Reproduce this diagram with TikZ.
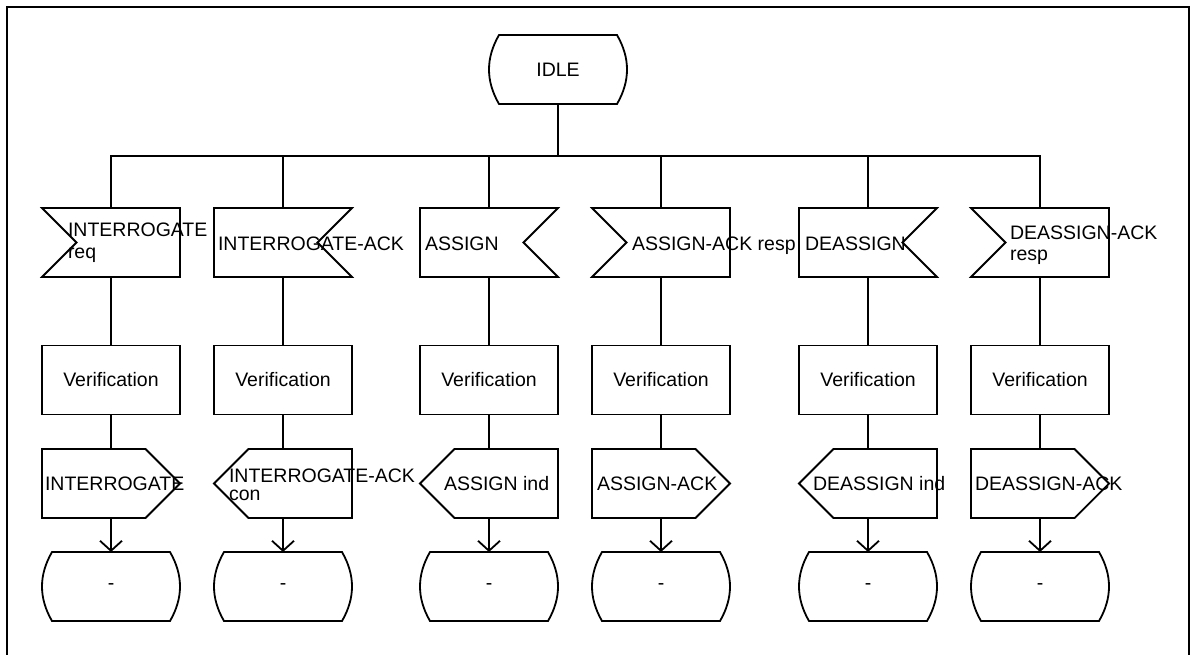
\documentclass[tikz,border=0pt]{standalone}
\usepackage{fontspec}
\setmainfont{Liberation Sans}
\usetikzlibrary{calc,arrows.meta}

\tikzset{
  sdl/.style={line width=1.8pt, line join=miter},
  frame/.style={line width=2.4pt},
  symbol/.style={draw=none, minimum width=138pt, minimum height=69pt, inner sep=0pt, outer sep=0pt},
  msgtext/.style={anchor=base west, inner sep=0pt, outer sep=0pt},
  arrowflow/.style={sdl, -{Straight Barb[length=10pt,width=22pt]}},
}

% SDL symbol outlines drawn round a named (invisible) node
\newcommand\sdlstate[1]{%
  \draw[sdl] ($(#1.north west)+(10,0)$) -- ($(#1.north east)+(-10,0)$)
    .. controls ($(#1.north east)+(3.33,23)$) and ($(#1.south east)+(3.33,-23)$) .. ($(#1.south east)+(-10,0)$)
    -- ($(#1.south west)+(10,0)$)
    .. controls ($(#1.south west)+(-3.33,-23)$) and ($(#1.north west)+(-3.33,23)$) .. cycle;}
\newcommand\sdlinL[1]{%
  \draw[sdl] (#1.north west) -- (#1.north east) -- (#1.south east) -- (#1.south west)
    -- ($(#1.west)+(34.5,0)$) -- cycle;}
\newcommand\sdlinR[1]{%
  \draw[sdl] (#1.north west) -- (#1.north east) -- ($(#1.east)+(-34.5,0)$)
    -- (#1.south east) -- (#1.south west) -- cycle;}
\newcommand\sdloutR[1]{%
  \draw[sdl] (#1.north west) -- ($(#1.north east)+(-34.5,0)$) -- (#1.east)
    -- ($(#1.south east)+(-34.5,0)$) -- (#1.south west) -- cycle;}
\newcommand\sdloutL[1]{%
  \draw[sdl] ($(#1.north west)+(34.5,0)$) -- (#1.north east) -- (#1.south east)
    -- ($(#1.south west)+(34.5,0)$) -- (#1.west) -- cycle;}

\begin{document}
\begin{tikzpicture}[x=1pt, y=-1pt, font=\fontsize{19.5}{21}\selectfont]
\useasboundingbox (0,0) rectangle (1191,654);
\clip (0,0) rectangle (1191,654);

% page frame
\draw[frame] (7,700) -- (7,7) -- (1189,7) -- (1189,700);

% start state
\node[symbol] (idle) at (558,69.5) {IDLE};
\sdlstate{idle}

% inputs
\node[symbol] (i1) at (111,242.5) {};
\node[symbol] (i2) at (283,242.5) {};
\node[symbol] (i3) at (489,242.5) {};
\node[symbol] (i4) at (661,242.5) {};
\node[symbol] (i5) at (868,242.5) {};
\node[symbol] (i6) at (1040,242.5) {};
\sdlinL{i1} \sdlinR{i2} \sdlinR{i3} \sdlinL{i4} \sdlinR{i5} \sdlinL{i6}

\node[msgtext] (ti1a) at (68,236) {INTERROGATE};
\node[msgtext] (ti1b) at (68,258) {req};
\node[msgtext] (ti2) at (218,250) {INTERROGATE-ACK};
\node[msgtext] (ti3) at (425,250.5) {ASSIGN};
\node[msgtext] (ti4) at (632,250) {ASSIGN-ACK resp};
\node[msgtext] (ti5) at (805,250.5) {DEASSIGN};
\node[msgtext] (ti6a) at (1010,239) {DEASSIGN-ACK};
\node[msgtext] (ti6b) at (1010,260) {resp};

% tasks
\foreach \n/\x in {1/111, 2/283, 3/489, 4/661, 5/868, 6/1040}
  \node[symbol, draw, sdl] (p\n) at (\x,380) {Verification};

% outputs
\node[symbol] (o1) at (111,483.5) {};
\node[symbol] (o2) at (283,483.5) {};
\node[symbol] (o3) at (489,483.5) {};
\node[symbol] (o4) at (661,483.5) {};
\node[symbol] (o5) at (868,483.5) {};
\node[symbol] (o6) at (1040,483.5) {};
\sdloutR{o1} \sdloutL{o2} \sdloutL{o3} \sdloutR{o4} \sdloutL{o5} \sdloutR{o6}

\node[msgtext] (to1) at (45,490.5) {INTERROGATE};
\node[msgtext] (to2a) at (229,482) {INTERROGATE-ACK};
\node[msgtext] (to2b) at (229,500) {con};
\node[msgtext] (to3) at (444,490.5) {ASSIGN ind};
\node[msgtext] (to4) at (597,490.5) {ASSIGN-ACK};
\node[msgtext] (to5) at (813,490.5) {DEASSIGN ind};
\node[msgtext] (to6) at (975,490.5) {DEASSIGN-ACK};

% next states
\foreach \n/\x in {1/111, 2/283, 3/489, 4/661, 5/868, 6/1040}
  \node[symbol] (s\n) at (\x,586.5) {-};
\foreach \n in {1,...,6} {\sdlstate{s\n}}

% flow lines
\foreach \n in {1,...,6} {
  \draw[sdl] (idle.south) -- ++(0,52) -| (i\n.north);
  \draw[sdl] (i\n.south) -- (p\n.north);
  \draw[sdl] (p\n.south) -- (o\n.north);
  \draw[arrowflow] (o\n.south) -- (s\n.north);
}
\end{tikzpicture}
\end{document}
